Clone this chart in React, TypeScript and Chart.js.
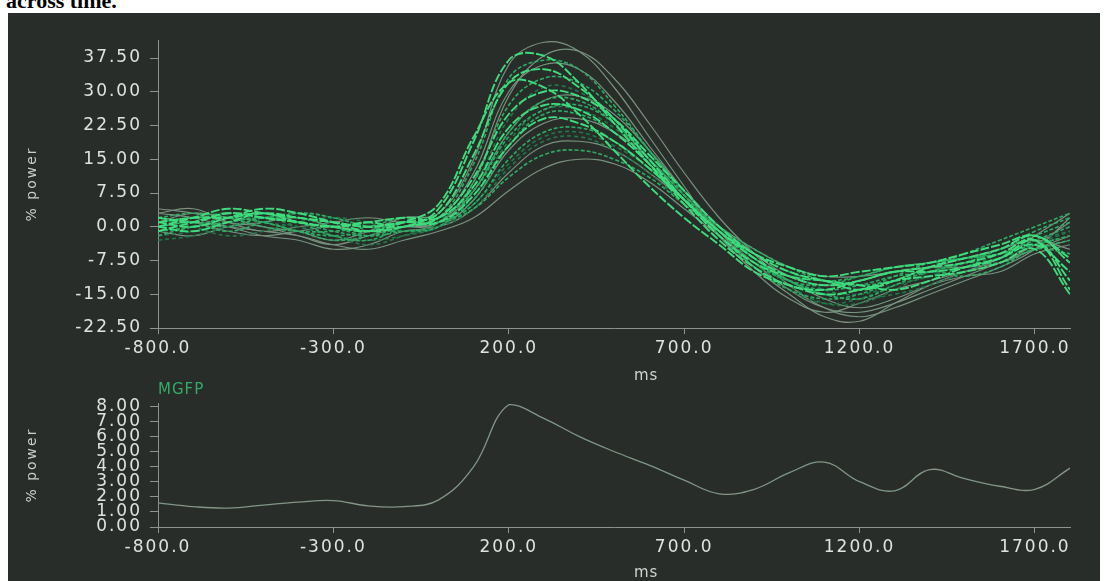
import React, { useEffect, useRef } from 'react';
import { Chart, registerables } from 'chart.js';
Chart.register(...registerables);

// ---------- data ----------
const timeMs = [-800, -700, -600, -500, -400, -300, -200, -100, 0, 100, 200, 300, 400, 500, 600, 700, 800, 900, 1000, 1100, 1200, 1300, 1400, 1500, 1600, 1700, 1800];
const xTicks = [-800, -300, 200, 700, 1200, 1700];
const topYTicks = [-22.5, -15, -7.5, 0, 7.5, 15, 22.5, 30, 37.5];
const mgfpYTicks = [0, 1, 2, 3, 4, 5, 6, 7, 8];

const s01 = [1, 3, 2, 0, -1, -3, -1, 2, 3, 15, 36, 41, 39, 31, 20, 9, -2, -10, -16, -19, -17, -14, -12, -10, -8, -4, 1];
const s02 = [2, 1, 3, 2, 1, 0, 1, 0, 4, 19, 37, 38, 32, 23, 14, 5, -3, -9, -13, -14, -12, -10, -9, -8, -6, -3, -14];
const s03 = [-1, 0, 2, 3, 1, -2, -3, 0, 2, 14, 33, 37, 35, 27, 17, 7, -2, -8, -12, -15, -16, -13, -10, -11, -9, -5, -6];
const s04 = [3, 4, 1, -1, 0, 1, 2, 1, 2, 12, 30, 36, 35, 28, 18, 8, -1, -9, -15, -20, -21, -17, -13, -10, -7, -2, 3];
const s05 = [0, 2, 4, 3, 2, 1, 0, 1, 3, 16, 32, 35, 31, 24, 15, 6, -2, -8, -11, -12, -13, -14, -12, -9, -7, -4, -10];
const s06 = [2, 1, -1, 1, 3, 2, 0, -1, 1, 10, 27, 33, 32, 26, 17, 8, 0, -7, -12, -14, -13, -11, -10, -8, -8, -5, -3];
const s07 = [-2, -1, 1, 2, 0, -2, -4, -2, 1, 9, 24, 31, 30, 24, 16, 7, -1, -8, -14, -17, -16, -13, -11, -9, -6, -3, -1];
const s08 = [1, 0, 2, 4, 3, 1, -1, 0, 2, 11, 25, 30, 29, 24, 16, 8, 0, -6, -10, -12, -14, -12, -9, -7, -5, -2, -8];
const s09 = [4, 3, 1, 0, -2, -4, -2, 0, 1, 8, 21, 28, 29, 25, 17, 8, 0, -7, -12, -16, -18, -16, -13, -11, -10, -6, -4];
const s10 = [0, 1, 0, 2, 2, 0, -2, -1, 0, 8, 21, 28, 28, 23, 15, 7, -1, -8, -12, -13, -11, -9, -8, -7, -5, -1, 2];
const s11 = [-1, 1, 3, 2, 1, 0, 1, 2, 2, 9, 22, 27, 26, 21, 14, 6, -1, -7, -11, -13, -12, -10, -10, -9, -7, -3, -12];
const s12 = [2, 0, -2, -1, 1, 2, 1, -1, 0, 7, 19, 26, 26, 22, 15, 7, 0, -6, -10, -14, -15, -13, -11, -8, -6, -4, -2];
const s13 = [1, 2, 2, 1, -1, -3, -2, 1, 1, 6, 18, 25, 25, 21, 14, 6, -1, -7, -12, -15, -14, -11, -8, -7, -6, -3, 0];
const s14 = [3, 2, 0, -2, -3, -5, -4, -1, 0, 6, 17, 23, 24, 21, 15, 7, 0, -6, -11, -13, -12, -10, -9, -9, -8, -5, -3];
const s15 = [0, -1, 1, 3, 2, 1, 0, 1, 1, 7, 18, 24, 23, 19, 13, 6, -1, -6, -9, -11, -10, -9, -8, -6, -4, -2, -7];
const s16 = [-2, 0, 1, 2, 1, -1, -2, 0, 1, 5, 15, 21, 22, 19, 13, 6, 0, -5, -9, -12, -13, -12, -10, -8, -5, -2, 1];
const s17 = [1, 2, 3, 1, 0, -2, -3, -2, 0, 5, 14, 20, 21, 18, 13, 6, -1, -7, -13, -17, -17, -14, -10, -8, -7, -4, -1];
const s18 = [2, 1, -1, -2, -1, 0, -1, 0, 0, 4, 12, 18, 19, 17, 12, 6, 0, -5, -9, -11, -11, -10, -9, -7, -5, -3, -5];
const s19 = [-1, 0, 2, 1, -1, -2, -1, 1, 1, 4, 11, 16, 17, 15, 11, 5, -1, -6, -10, -12, -11, -9, -8, -7, -6, -4, -2];
const s20 = [0, 1, 0, -1, -2, -4, -5, -3, -1, 2, 8, 13, 15, 14, 10, 4, -2, -8, -14, -18, -19, -17, -14, -11, -8, -5, -2];
const s21 = [1, 2, 2, 3, 1, 0, -1, 1, 5, 20, 32, 31, 25, 17, 9, 2, -4, -10, -13, -15, -14, -12, -11, -10, -8, -5, -15];
const s22 = [-1, -2, 0, 1, 2, 0, -1, 0, 1, 10, 29, 38, 39, 33, 23, 12, 2, -6, -13, -18, -20, -18, -15, -12, -9, -5, 2];
const s23 = [2, 3, 2, 0, -1, -1, 0, 2, 2, 8, 20, 26, 27, 23, 15, 6, -2, -9, -14, -16, -15, -12, -9, -6, -3, 0, 3];
const s24 = [-3, -2, 0, 2, 3, 2, 0, -1, 0, 4, 13, 19, 20, 17, 12, 5, -1, -7, -12, -15, -16, -15, -13, -10, -7, -4, -6];

const mgfp = [1.6, 1.35, 1.25, 1.45, 1.65, 1.75, 1.4, 1.35, 1.8, 4.0, 8.1, 7.2, 6.0, 5.0, 4.1, 3.1, 2.2, 2.5, 3.6, 4.3, 3.0, 2.4, 3.8, 3.2, 2.7, 2.5, 3.9];

const channelSeries = [s01, s02, s03, s04, s05, s06, s07, s08, s09, s10, s11, s12, s13, s14, s15, s16, s17, s18, s19, s20, s21, s22, s23, s24];
const channelKinds = ['gray', 'bright', 'mid', 'gray', 'bright', 'mid', 'dark', 'bright', 'gray', 'mid', 'bright', 'dark', 'mid', 'gray', 'bright', 'mid', 'dark', 'gray', 'mid', 'gray', 'bright', 'gray', 'mid', 'dark'];

// ---------- styles ----------
const kindStyle: Record<string, { color: string; width: number; dash: number[]; order: number }> = {
  bright: { color: 'rgb(62,220,124)', width: 1.9, dash: [9, 2], order: 0 },
  mid: { color: 'rgb(46,172,100)', width: 1.6, dash: [4, 2], order: 1 },
  dark: { color: 'rgb(34,120,72)', width: 1.6, dash: [4, 3], order: 2 },
  gray: { color: 'rgb(120,146,126)', width: 1.2, dash: [], order: 3 },
};

const TICK_FONT = { family: '"DejaVu Sans", sans-serif', size: 17 };
const TICK_COLOR = '#dfe3df';
const AXIS_COLOR = '#8d938d';

const spacingPlugin = {
  id: 'spacing',
  beforeUpdate(c: any) { c.ctx.letterSpacing = '2px'; },
  beforeDraw(c: any) { c.ctx.letterSpacing = '2px'; },
};

function xScale(height: number) {
  return {
    type: 'linear',
    min: -800,
    max: 1800,
    afterBuildTicks: (s: any) => { s.ticks = xTicks.map((v) => ({ value: v })); },
    afterFit: (s: any) => { s.height = height; },
    ticks: { color: TICK_COLOR, font: TICK_FONT, padding: 4, maxRotation: 0, autoSkip: false, callback: (v: any) => Number(v).toFixed(1) },
    grid: { display: true, drawOnChartArea: false, drawTicks: true, tickLength: 6, color: AXIS_COLOR },
    border: { display: true, color: AXIS_COLOR, width: 1 },
  };
}

function yScale(min: number, max: number, ticks: number[], digits: number) {
  return {
    type: 'linear',
    min,
    max,
    afterBuildTicks: (s: any) => { s.ticks = ticks.map((v) => ({ value: v })); },
    afterFit: (s: any) => { s.width = 150; },
    ticks: { color: TICK_COLOR, font: TICK_FONT, padding: 8, autoSkip: false, callback: (v: any) => Number(v).toFixed(digits) },
    grid: { display: true, drawOnChartArea: false, drawTicks: true, tickLength: 8, color: AXIS_COLOR },
    border: { display: true, color: AXIS_COLOR, width: 1 },
    title: { display: true, text: '% power', color: '#c9cec9', font: { family: '"DejaVu Sans", sans-serif', size: 14 }, padding: { top: 16, bottom: 0 } },
  };
}

function TopChart() {
  const ref = useRef<HTMLCanvasElement>(null);
  useEffect(() => {
    const datasets = channelSeries.map((vals, i) => {
      const st = kindStyle[channelKinds[i]];
      return {
        data: timeMs.map((t, j) => ({ x: t, y: vals[j] })),
        borderColor: st.color,
        borderWidth: st.width,
        borderDash: st.dash,
        order: st.order,
        pointRadius: 0,
        tension: 0.4,
        fill: false,
      };
    });
    const chart = new Chart(ref.current as HTMLCanvasElement, {
      type: 'line',
      data: { datasets },
      options: {
        animation: false,
        responsive: false,
        devicePixelRatio: 1,
        layout: { padding: { left: 0, top: 28, right: 30, bottom: 0 } },
        plugins: { legend: { display: false }, tooltip: { enabled: false } },
        scales: {
          x: xScale(56) as any,
          y: yScale(-22.5, 41.5, topYTicks, 2) as any,
        },
      },
      plugins: [spacingPlugin],
    } as any);
    return () => chart.destroy();
  }, []);
  return <canvas ref={ref} width={1092} height={372} style={{ position: 'absolute', left: 8, top: 12 }} />;
}

function MgfpChart() {
  const ref = useRef<HTMLCanvasElement>(null);
  useEffect(() => {
    const chart = new Chart(ref.current as HTMLCanvasElement, {
      type: 'line',
      data: {
        datasets: [{
          data: timeMs.map((t, j) => ({ x: t, y: mgfp[j] })),
          borderColor: 'rgb(128,150,134)',
          borderWidth: 1.3,
          pointRadius: 0,
          tension: 0.4,
          fill: false,
        }],
      },
      options: {
        animation: false,
        responsive: false,
        devicePixelRatio: 1,
        layout: { padding: { left: 0, top: 15, right: 30, bottom: 0 } },
        plugins: { legend: { display: false }, tooltip: { enabled: false } },
        scales: {
          x: xScale(54) as any,
          y: yScale(0, 8.2, mgfpYTicks, 2) as any,
        },
      },
      plugins: [spacingPlugin],
    } as any);
    return () => chart.destroy();
  }, []);
  return <canvas ref={ref} width={1092} height={196} style={{ position: 'absolute', left: 8, top: 385 }} />;
}

const labelStyle: React.CSSProperties = {
  position: 'absolute',
  fontFamily: '"DejaVu Sans", sans-serif',
  fontSize: 15,
  letterSpacing: '1px',
  color: '#cfd4cf',
  lineHeight: '16px',
  whiteSpace: 'nowrap',
};

export default function App() {
  return (
    <div style={{ position: 'fixed', left: 0, top: 0, width: 1107, height: 581, background: '#ffffff', overflow: 'hidden' }}>
      <div style={{ position: 'absolute', left: 6, top: -10, fontFamily: '"Liberation Serif", serif', fontWeight: 'bold', fontSize: 22, lineHeight: '22px', color: '#000' }}>across time.</div>
      <div style={{ position: 'absolute', left: 8, top: 13, width: 1092, height: 568, background: '#282d29' }} />
      <TopChart />
      <MgfpChart />
      <div style={{ ...labelStyle, left: 634, top: 367 }}>ms</div>
      <div style={{ ...labelStyle, left: 634, top: 564 }}>ms</div>
      <div style={{ ...labelStyle, left: 158, top: 381, color: 'rgb(52,170,102)' }}>MGFP</div>
    </div>
  );
}
